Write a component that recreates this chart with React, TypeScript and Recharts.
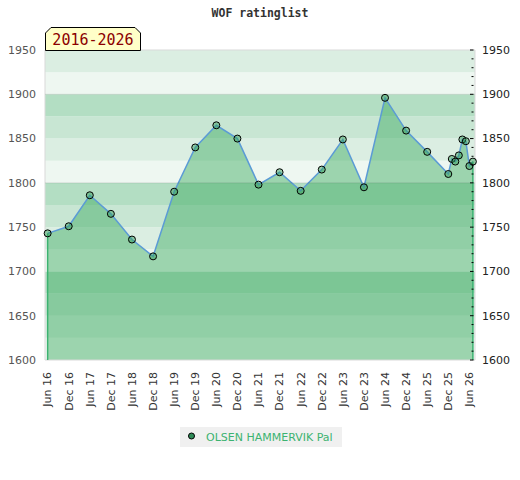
import { ComposedChart, Area, Line, XAxis, YAxis, ReferenceArea, ReferenceLine } from 'recharts';

// month index counted from Jun 2016
const MONTHS = [0, 6, 12, 18, 24, 30, 36, 42, 48, 54, 60, 66, 72, 78, 84, 90, 96, 102, 108, 114, 115, 116, 117, 118, 119, 120, 121];
const RATINGS = [1743, 1751, 1786, 1765, 1736, 1717, 1790, 1840, 1865, 1850, 1798, 1812, 1791, 1815, 1849, 1795, 1896, 1859, 1835, 1810, 1827, 1824, 1831, 1849, 1847, 1819, 1824];

const X_TICKS = [0, 6, 12, 18, 24, 30, 36, 42, 48, 54, 60, 66, 72, 78, 84, 90, 96, 102, 108, 114, 120];
const X_LABELS = ['Jun 16', 'Dec 16', 'Jun 17', 'Dec 17', 'Jun 18', 'Dec 18', 'Jun 19', 'Dec 19', 'Jun 20', 'Dec 20', 'Jun 21', 'Dec 21', 'Jun 22', 'Dec 22', 'Jun 23', 'Dec 23', 'Jun 24', 'Dec 24', 'Jun 25', 'Dec 25', 'Jun 26'];
const Y_TICKS = [1600, 1650, 1700, 1750, 1800, 1850, 1900, 1950];
const PLAYER = 'OLSEN HAMMERVIK Pal';
const PERIOD = '2016-2026';

const Y_MIN = 1600;
const Y_MAX = 1950;
const X_DOMAIN: [number, number] = [-0.75, 121.6];

const MINOR_TICKS = Array.from({ length: (Y_MAX - Y_MIN) / 10 + 1 }, (_, i) => Y_MIN + i * 10);

// 25-point background bands, shade depends on position inside each hundred
const BAND_SHADES: Record<number, string> = { 0: '#eef7f1', 25: '#dbeee2', 50: '#c8e6d3', 75: '#b3dec3' };
const BANDS = Array.from({ length: (Y_MAX - Y_MIN) / 25 }, (_, i) => Y_MIN + i * 25);

const data = MONTHS.map((m, i) => ({ m, rating: RATINGS[i] }));

const FONT = '"DejaVu Sans", sans-serif';
const MONO = '"DejaVu Sans Mono", monospace';

function XTick(props: any) {
  const { x, y, payload } = props;
  const idx = X_TICKS.indexOf(payload.value);
  return (
    <text
      x={x}
      y={y}
      dy="0.35em"
      transform={`rotate(-90, ${x}, ${y})`}
      textAnchor="end"
      fontSize={11}
      fontFamily={FONT}
      fill="#333"
    >
      {X_LABELS[idx]}
    </text>
  );
}

function RightTick(props: any) {
  const { x, y, payload } = props;
  const axisX = x - 7;
  const major = payload.value % 50 === 0;
  return (
    <g>
      <line x1={axisX - (major ? 5 : 3.5)} x2={axisX - 1.5} y1={y} y2={y} stroke="#000" strokeWidth={1} />
      {major && (
        <text x={x} y={y} dy="0.35em" textAnchor="start" fontSize={11} fontFamily={FONT} fill="#222">
          {payload.value}
        </text>
      )}
    </g>
  );
}

export default function App() {
  const first = data[0];
  const last = data[data.length - 1];
  return (
    <div style={{ position: 'absolute', left: 0, top: 0, width: 520, height: 480, background: '#fff' }}>
      <div
        style={{
          position: 'absolute', left: 0, top: 6, width: 520, textAlign: 'center',
          fontFamily: MONO, fontWeight: 'bold', fontSize: 11.5, color: '#333',
        }}
      >
        WOF ratinglist
      </div>
      <ComposedChart width={520} height={480} data={data} margin={{ top: 50, right: 0, bottom: 0, left: 0 }}>
        {BANDS.map(b => (
          <ReferenceArea
            key={b}
            yAxisId="left"
            y1={b}
            y2={b + 25}
            fill={BAND_SHADES[b % 100]}
            fillOpacity={1}
            stroke="none"
          />
        ))}
        {[1800, 1900].map(v => (
          <ReferenceLine key={v} yAxisId="left" y={v} stroke="#000" strokeOpacity={0.1} strokeWidth={1} />
        ))}
        <XAxis
          dataKey="m"
          type="number"
          domain={X_DOMAIN}
          ticks={X_TICKS}
          interval={0}
          height={120}
          axisLine={false}
          tickLine={false}
          tickSize={0}
          tickMargin={12}
          tick={<XTick />}
        />
        <YAxis
          yAxisId="left"
          orientation="left"
          width={45}
          domain={[Y_MIN, Y_MAX]}
          ticks={Y_TICKS}
          interval={0}
          axisLine={false}
          tickLine={false}
          tickSize={0}
          tickMargin={9}
          tick={{ fontSize: 11, fontFamily: FONT, fill: '#555' }}
        />
        <YAxis
          yAxisId="right"
          orientation="right"
          width={45}
          domain={[Y_MIN, Y_MAX]}
          ticks={MINOR_TICKS}
          interval={0}
          axisLine={false}
          tickLine={false}
          tickSize={0}
          tickMargin={7}
          tick={<RightTick />}
        />
        <Area
          yAxisId="left"
          type="linear"
          dataKey="rating"
          stroke="#5b9bd5"
          strokeWidth={1.5}
          fill="#3aa95f"
          fillOpacity={0.46}
          dot={{ r: 3.5, fill: '#2f9a55', stroke: '#000', strokeWidth: 1 }}
          activeDot={false}
          isAnimationActive={false}
        />
        {/* invisible copy so the right axis has a series to scale */}
        <Line
          yAxisId="right"
          type="linear"
          dataKey="rating"
          stroke="none"
          dot={false}
          activeDot={false}
          legendType="none"
          isAnimationActive={false}
        />
        <ReferenceLine
          yAxisId="left"
          segment={[{ x: first.m, y: Y_MIN }, { x: first.m, y: first.rating }]}
          stroke="#3cb371"
          strokeWidth={1.5}
        />
        <ReferenceLine
          yAxisId="left"
          segment={[{ x: last.m, y: Y_MIN }, { x: last.m, y: last.rating }]}
          stroke="#3cb371"
          strokeWidth={1.5}
        />
        <ReferenceArea
          yAxisId="left"
          y1={Y_MIN}
          y2={Y_MAX}
          fill="none"
          stroke="#d9d9d9"
          strokeWidth={1}
        />
      </ComposedChart>
      <svg style={{ position: 'absolute', left: 0, top: 0, pointerEvents: 'none' }} width={520} height={60}>
        <path d="M45.5,50.5 L45.5,33 L51,27.5 L135,27.5 L140.5,33 L140.5,50.5 Z" fill="#ffffc8" stroke="#000" strokeWidth={1} />
        <text x={93} y={45} textAnchor="middle" fontFamily={MONO} fontSize={15} fill="#8b0000">
          {PERIOD}
        </text>
      </svg>
      <div
        style={{
          position: 'absolute', left: 180, top: 427, width: 162, height: 20, background: '#f0f0f0',
          fontFamily: FONT, fontSize: 11, color: '#3cb371', display: 'flex', alignItems: 'center',
        }}
      >
        <svg width={26} height={20} style={{ flex: 'none' }}>
          <circle cx={11.5} cy={9} r={3} fill="#2e8b57" stroke="#000" strokeWidth={1} />
        </svg>
        <span>{PLAYER}</span>
      </div>
    </div>
  );
}
